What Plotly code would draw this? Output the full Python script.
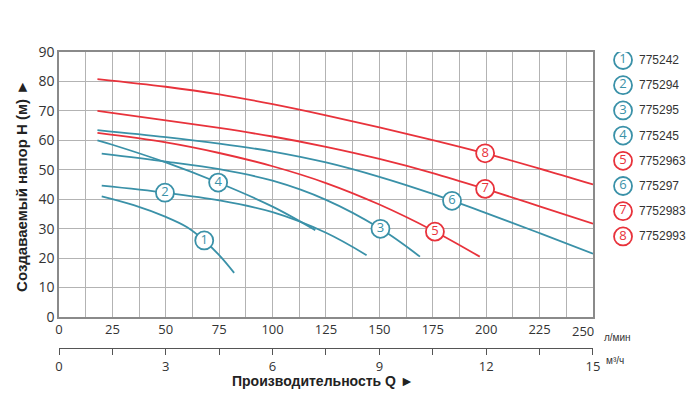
import numpy as np
import plotly.graph_objects as go

# ---- data (Q in l/min, H in m) ----
q1 = [20, 35, 50, 60, 68, 75, 82]
h1 = [41, 38, 34, 30.5, 26, 21, 15]
q2 = [20, 50, 75, 100, 125, 144]
h2 = [44.6, 42.2, 39.6, 35.6, 28.6, 21]
q3 = [20, 50, 75, 100, 125, 150, 169]
h3 = [55.5, 52.8, 50.2, 46.3, 39.8, 30.2, 20.5]
q4 = [18, 25, 50, 75, 100, 120]
h4 = [60, 58.5, 52.5, 45.5, 37.5, 29.5]
q5 = [18, 50, 75, 100, 125, 150, 175, 197]
h5 = [62.5, 59.3, 55.7, 51.2, 45.5, 38.2, 29.4, 20.5]
q6 = [18, 50, 75, 100, 125, 150, 175, 200, 225, 250]
h6 = [63.5, 61.1, 58.9, 56.2, 52.5, 47.6, 41.8, 35.3, 28.5, 21.5]
q7 = [18, 50, 75, 100, 125, 150, 175, 200, 225, 250]
h7 = [70, 66.8, 64.2, 61.3, 57.8, 53.7, 48.9, 43.4, 37.6, 31.7]
q8 = [18, 50, 75, 100, 125, 150, 175, 200, 225, 250]
h8 = [80.8, 78.2, 75.6, 72.3, 68.5, 64.4, 60.1, 55.5, 50.4, 45]

curve_q = [q1, q2, q3, q4, q5, q6, q7, q8]
curve_h = [h1, h2, h3, h4, h5, h6, h7, h8]
curve_num = ["1", "2", "3", "4", "5", "6", "7", "8"]
curve_code = ["775242", "775294", "775295", "775245", "7752963", "775297", "7752983", "7752993"]
curve_group = ["b", "b", "b", "b", "r", "b", "r", "r"]
label_q = [68, 49.6, 150.5, 74.5, 176, 184, 199.5, 199.5]

x_ticks = list(range(0, 251, 25))
x2_ticks = [0, 3, 6, 9, 12, 15]
y_ticks = list(range(0, 91, 10))

# ---- styles ----
BLUE = "#3a91a8"
RED = "#e8323b"
COL = {"b": BLUE, "r": RED}
GRID = "#b3b3b3"
TXT = "#333333"
FONT = "Liberation Sans"

XDOM = [0, 0.8396]
YDOM = [0.1047, 1]

fig = go.Figure()

for q, h, g in zip(curve_q, curve_h, curve_group):
    fig.add_trace(go.Scatter(x=q, y=h, mode="lines",
                             line=dict(color=COL[g], width=1.8, shape="spline", smoothing=1.0),
                             hoverinfo="skip", showlegend=False, xaxis="x", yaxis="y"))

for q, h, n, g, lq in zip(curve_q, curve_h, curve_num, curve_group, label_q):
    lh = float(np.interp(lq, q, h))
    fig.add_trace(go.Scatter(x=[lq], y=[lh], mode="markers+text", text=[n],
                             textposition="middle center",
                             textfont=dict(color=COL[g], size=13, family="Open Sans"),
                             marker=dict(symbol="circle", size=18, color="white",
                                         line=dict(color=COL[g], width=1.8)),
                             hoverinfo="skip", showlegend=False, xaxis="x", yaxis="y"))

# secondary axis dummy trace
fig.add_trace(go.Scatter(x=[0, 15], y=[0, 0], mode="lines", line=dict(width=0),
                         opacity=0, hoverinfo="skip", showlegend=False,
                         xaxis="x2", yaxis="y"))

# custom legend (axes in pixel units)
leg_y = [60 + i * 25.2 for i in range(len(curve_num))]
fig.add_trace(go.Scatter(x=[623] * len(curve_num), y=leg_y, mode="markers+text",
                         text=curve_num, textposition="middle center",
                         textfont=dict(color=[COL[g] for g in curve_group], size=13, family="Open Sans"),
                         marker=dict(symbol="circle", size=18, color="white",
                                     line=dict(color=[COL[g] for g in curve_group], width=1.8)),
                         hoverinfo="skip", showlegend=False, xaxis="x3", yaxis="y3"))

annotations = []
for yy, code in zip(leg_y, curve_code):
    annotations.append(dict(x=637, y=yy, xref="x3", yref="y3", text=code, showarrow=False,
                            xanchor="left", yanchor="middle",
                            font=dict(family=FONT, size=12, color=TXT)))

annotations += [
    dict(x=0.415, y=-0.111, xref="paper", yref="paper", text="<b>Производительность Q ►</b>",
         showarrow=False, xanchor="center", yanchor="middle",
         font=dict(family=FONT, size=14, color="#222")),
    dict(x=-0.058, y=0.548, xref="paper", yref="paper", text="<b>Создаваемый напор H (м) ►</b>",
         showarrow=False, textangle=-90, xanchor="center", yanchor="middle",
         font=dict(family=FONT, size=15, color="#222")),
    dict(x=0.853, y=0.037, xref="paper", yref="paper", text="л/мин",
         showarrow=False, xanchor="left", yanchor="middle",
         font=dict(family=FONT, size=10, color=TXT)),
    dict(x=0.857, y=-0.041, xref="paper", yref="paper", text="м³/ч",
         showarrow=False, xanchor="left", yanchor="middle",
         font=dict(family=FONT, size=10, color=TXT)),
    # last tick label of the l/min axis, pulled left of the unit text
    dict(x=x_ticks[-1], y=YDOM[0], xref="x", yref="paper", text=str(x_ticks[-1]),
         showarrow=False, xanchor="right", yanchor="top", xshift=3, yshift=-3,
         font=dict(family="Open Sans", size=13, color=TXT)),
]

x_text = [str(v) for v in x_ticks]
x_text[-1] = ""

fig.update_layout(
    width=700, height=407,
    margin=dict(l=59, r=5, t=52, b=59, autoexpand=False),
    paper_bgcolor="white", plot_bgcolor="white",
    showlegend=False,
    annotations=annotations,
    xaxis=dict(domain=XDOM, range=[0, 250], anchor="y", automargin=False,
               tickvals=x_ticks, ticktext=x_text,
               showgrid=True, gridcolor=GRID, gridwidth=1,
               minor=dict(dtick=12.5, showgrid=True, gridcolor=GRID, gridwidth=1),
               showline=True, mirror=True, linecolor="#8a8a8a", linewidth=1.5,
               ticks="", zeroline=False,
               tickfont=dict(family="Open Sans", size=13, color=TXT)),
    xaxis2=dict(domain=XDOM, range=[0, 15], overlaying="x", anchor="free", position=0,
                side="bottom", automargin=False,
                tickvals=[i * 1.5 for i in range(11)],
                ticktext=[str(int(v)) if v in x2_ticks else "" for v in [i * 1.5 for i in range(11)]],
                showgrid=False, zeroline=False,
                showline=True, linecolor="#555", linewidth=1.2,
                ticks="outside", ticklen=6, tickcolor="#555", tickwidth=1.2,
                tickfont=dict(family="Open Sans", size=13, color=TXT)),
    yaxis=dict(domain=YDOM, range=[0, 90], tickvals=y_ticks, automargin=False,
               showgrid=True, gridcolor=GRID, gridwidth=1,
               showline=True, mirror=True, linecolor="#8a8a8a", linewidth=1.5,
               ticks="", zeroline=False,
               tickfont=dict(family="Open Sans", size=14, color=TXT)),
    xaxis3=dict(domain=[0.865, 1.0], range=[609.1, 695], visible=False, anchor="y3",
                automargin=False),
    yaxis3=dict(domain=[0, 1], range=[348, 52], visible=False, anchor="x3",
                automargin=False),
)

fig.write_html("out.html", config={"displayModeBar": False},
               post_script="document.body.style.margin='0';document.body.style.overflow='hidden';")
